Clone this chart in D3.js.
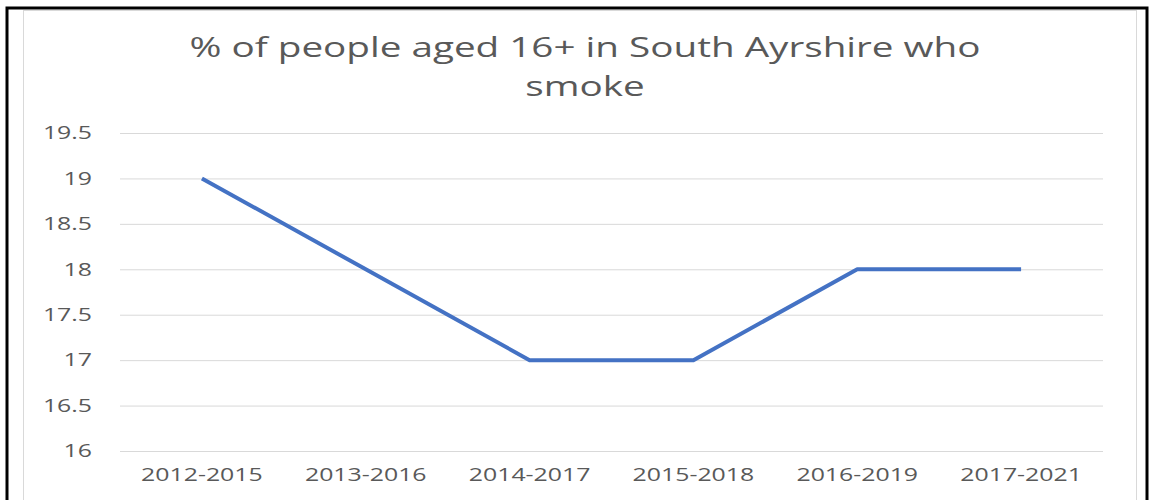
<!DOCTYPE html>
<html>
<head>
<meta charset="utf-8">
<script src="https://cdn.jsdelivr.net/npm/d3@7"></script>
<style>
  body { margin: 0; background: #fff; }
  svg { display: block; }
  svg text { font-family: "Open Sans", "Liberation Sans", sans-serif; }
</style>
</head>
<body>
<svg id="chart" width="1149" height="500"></svg>
<script>
const periods = ["2012-2015", "2013-2016", "2014-2017", "2015-2018", "2016-2019", "2017-2021"];
const smokers = [19, 18, 17, 17, 18, 18];
const yTicks = [16, 16.5, 17, 17.5, 18, 18.5, 19, 19.5];
const titleLines = ["% of people aged 16+ in South Ayrshire who", "smoke"];

const config = {
  width: 1149,
  height: 500,
  margin: { left: 120, right: 46, top: 133, bottom: 49 },
  lineColor: "#4472c4",
  textColor: "#595959",
  // the source picture is stretched sideways, so text is widened to match
  stretch: 1.38
};

const svg = d3.select("#chart");

// outer frame and chart area border
svg.append("rect")
  .attr("x", 7).attr("y", 8)
  .attr("width", 1140).attr("height", 500)
  .attr("fill", "none").attr("stroke", "#000").attr("stroke-width", 3);

svg.append("rect")
  .attr("x", 23.5).attr("y", 10.5)
  .attr("width", 1113).attr("height", 500)
  .attr("fill", "none").attr("stroke", "#d9d9d9").attr("stroke-width", 1);

//Scales
const x = d3.scaleBand()
  .domain(periods)
  .range([config.margin.left, config.width - config.margin.right]);

const y = d3.scaleLinear()
  .domain([16, 19.5])
  .range([config.height - config.margin.bottom, config.margin.top]);

//Gridlines + y labels
const yAxis = d3.axisLeft(y)
  .tickValues(yTicks)
  .tickSize(-(x.range()[1] - x.range()[0]))
  .tickFormat(d => d3.format("")(d));

svg.append("g")
  .attr("transform", `translate(${config.margin.left},0)`)
  .call(yAxis)
  .call(g => g.select(".domain").remove())
  .call(g => g.selectAll(".tick line").attr("stroke", "#d9d9d9").attr("stroke-width", 1))
  .call(g => g.selectAll(".tick text")
    .attr("x", -28 / config.stretch)
    .attr("transform", `scale(${config.stretch},1)`)
    .attr("fill", config.textColor)
    .style("font-size", "18px"));

//X axis labels
const xAxis = d3.axisBottom(x).tickSize(0).tickPadding(17);

svg.append("g")
  .attr("transform", `translate(0,${y(16)})`)
  .call(xAxis)
  .call(g => g.select(".domain").remove())
  .call(g => g.selectAll(".tick text")
    .attr("transform", `scale(${config.stretch},1)`)
    .attr("fill", config.textColor)
    .style("font-size", "18px"));

//Line
const line = d3.line()
  .x((d, i) => x(periods[i]) + x.bandwidth() / 2)
  .y(d => y(d));

svg.append("path")
  .datum(smokers)
  .attr("d", line)
  .attr("fill", "none")
  .attr("stroke", config.lineColor)
  .attr("stroke-width", 4)
  .attr("stroke-linejoin", "round");

//Title
const titleX = 585;
svg.append("text")
  .attr("transform", `translate(${titleX},57) scale(${config.stretch},1)`)
  .attr("text-anchor", "middle")
  .attr("fill", config.textColor)
  .style("font-size", "28px")
  .selectAll("tspan")
  .data(titleLines)
  .enter()
  .append("tspan")
  .attr("x", 0)
  .attr("dy", (d, i) => i ? 39 : 0)
  .text(d => d);
</script>
</body>
</html>
